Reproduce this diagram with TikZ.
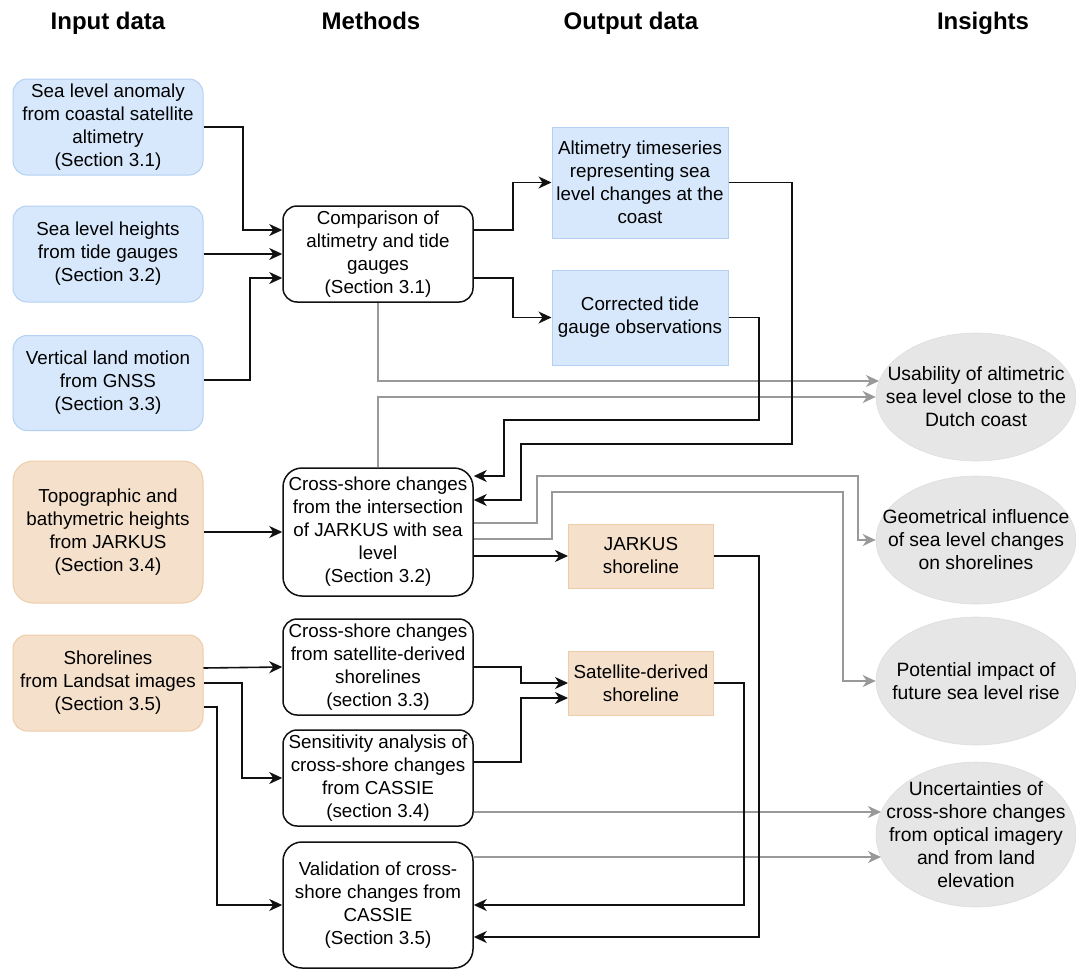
\documentclass[tikz,border=0pt]{standalone}
\usepackage{fontspec}
\setmainfont{Liberation Sans}
\usetikzlibrary{arrows.meta,calc,shapes.geometric}
\definecolor{blueF}{HTML}{D7E8FC}
\definecolor{blueD}{HTML}{B3D0F2}
\definecolor{orF}{HTML}{F4E0CB}
\definecolor{orD}{HTML}{EFCCA9}
\definecolor{ellF}{HTML}{E6E6E6}
\definecolor{grayL}{HTML}{999999}
\definecolor{blk}{HTML}{111111}
\begin{document}
\begin{tikzpicture}[x=1pt,y=-1pt,
 body/.style={font=\fontsize{18.8}{23}\selectfont},
 box/.style={body, rectangle, inner sep=0pt, align=center, minimum width=190pt, minimum height=96pt},
 inblue/.style={box, rounded corners=14pt, fill=blueF, draw=blueD, line width=1pt},
 inorange/.style={box, rounded corners=14pt, fill=orF, draw=orD, line width=1pt},
 method/.style={box, rounded corners=14pt, draw=blk, line width=1.5pt, fill=white},
 outblue/.style={box, fill=blueF, draw=blueD, line width=1pt, minimum width=176pt},
 outorange/.style={box, fill=orF, draw=orD, line width=1pt, minimum width=145pt, minimum height=64pt},
 insight/.style={ellipse, fill=ellF, draw=ellF!96!black, line width=0.6pt, inner sep=0pt, minimum width=200pt, minimum height=128pt},
 itext/.style={font=\fontsize{19.3}{23}\selectfont, align=center, inner sep=0pt},
 header/.style={font=\fontsize{24}{28}\selectfont\bfseries, inner sep=0pt, anchor=base},
 arr/.style={draw=blk, line width=1.6pt, -{Stealth[length=13pt,width=12pt,inset=4pt]}},
 garr/.style={draw=grayL, line width=1.6pt, -{Stealth[length=13pt,width=12pt,inset=4pt]}}
]
\useasboundingbox (0,0) rectangle (1076,969);

% headers
\node[header] (h1) at (108,29) {Input data};
\node[header] (h2) at (371,29) {Methods};
\node[header] (h3) at (631,29) {Output data};
\node[header] (h4) at (983,29) {Insights};

% input data
\node[inblue] (in1) at (108,127) {Sea level anomaly\\from coastal satellite\\altimetry\\(Section 3.1)};
\node[inblue] (in2) at (108,254) {Sea level heights\\from tide gauges\\(Section 3.2)};
\node[inblue, minimum height=95pt] (in3) at (108,383) {Vertical land motion\\from GNSS\\(Section 3.3)};
\node[inorange, minimum height=142pt, rounded corners=20pt] (in4) at (108,532) {Topographic and\\bathymetric heights\\from JARKUS\\(Section 3.4)};
\node[inorange] (in5) at (108,683) {Shorelines\\from Landsat images\\(Section 3.5)};

% methods
\node[method] (m1) at (378,254) {Comparison of\\altimetry and tide\\gauges\\(Section 3.1)};
\node[method, minimum height=128pt, rounded corners=19pt] (m2) at (378,532) {Cross-shore changes\\from the intersection\\of JARKUS with sea\\level\\(Section 3.2)};
\node[method] (m3) at (378,667) {Cross-shore changes\\from satellite-derived\\shorelines\\(section 3.3)};
\node[method] (m4) at (378,778) {Sensitivity analysis of\\cross-shore changes\\from CASSIE\\(section 3.4)};
\node[method, minimum height=126pt, rounded corners=19pt] (m5) at (378,905) {Validation of cross-\\shore changes from\\CASSIE\\(Section 3.5)};

% output data
\node[outblue, minimum height=111pt] (o1) at (640,182.5) {Altimetry timeseries\\representing sea\\level changes at the\\coast};
\node[outblue, minimum height=95pt] (o2) at (640,317.5) {Corrected tide\\gauge observations};
\node[outorange] (o3) at (641,556) {JARKUS\\shoreline};
\node[outorange] (o4) at (641,683) {Satellite-derived\\shoreline};

% insights
\node[insight] (e1) at (976,397) {};
\node[itext] (e1t) at (e1.center) {Usability of altimetric\\sea level close to the\\Dutch coast};
\node[insight] (e2) at (976,540) {};
\node[itext] (e2t) at (e2.center) {Geometrical influence\\of sea level changes\\on shorelines};
\node[insight] (e3) at (976,681) {};
\node[itext] (e3t) at (e3.center) {Potential impact of\\future sea level rise};
\node[insight, minimum height=145pt] (e4) at (976,834.5) {};
\node[itext] (e4t) at (e4.center) {Uncertainties of\\cross-shore changes\\from optical imagery\\and from land\\elevation};

% gray connectors
\draw[garr] (m1.south) |- ($(e1.center)+(-97,-16)$);
\draw[garr] (m2.north) |- (e1.west);
\draw[garr] (m2.east |- 0,523) -| (537,476) -| (858,540) -- (e2.west);
\draw[garr] (m2.east |- 0,539) -| (552,492) -| (843,681) -- (e3.west);
\draw[garr] (m4.east |- 0,812) -- ($(e4.center)+(-95,-22.5)$);
\draw[garr] (m5.east |- 0,857) -- ($(e4.center)+(-95,22.5)$);

% black connectors: input -> methods
\draw[arr] (in1.east) -| (243,200) |- (m1.west |- 0,230);
\draw[arr] (in2.east) -- (m1.west);
\draw[arr] (in3.east |- 0,380) -| (250,300) |- (m1.west |- 0,278);
\draw[arr] (in4.east) -- (m2.west);
\draw[arr] (in5.east |- 0,668) -- (m3.west);
\draw[arr] (in5.east) -| ([xshift=-40pt]m4.west) -- (m4.west);
\draw[arr] (in5.east |- 0,707) -| ([xshift=-65pt]m5.west) -- (m5.west);

% methods -> outputs
\draw[arr] (m1.east |- 0,230) -| (513,200) |- (o1.west);
\draw[arr] (m1.east |- 0,278) -| (513,300) |- (o2.west);
\draw[arr] (m2.east |- 0,556) -- (o3.west);
\draw[arr] (m3.east) -| ([xshift=-47pt]o4.west) -- (o4.west);
\draw[arr] (m4.east |- 0,762) -| (521,698) -- (o4.west |- 0,698);

% outputs -> methods
\draw[arr] (o2.east) -| (759,420) -| (504,476) -- (m2.east |- 0,476);
\draw[arr] (o1.east) -| (792,444) -| (521,500) -- (m2.east |- 0,500);
\draw[arr] (o4.east) -| ([xshift=270pt]m5.east) -- (m5.east);
\draw[arr] (o3.east) -| (759,937) -- (m5.east |- 0,937);
\end{tikzpicture}
\end{document}
